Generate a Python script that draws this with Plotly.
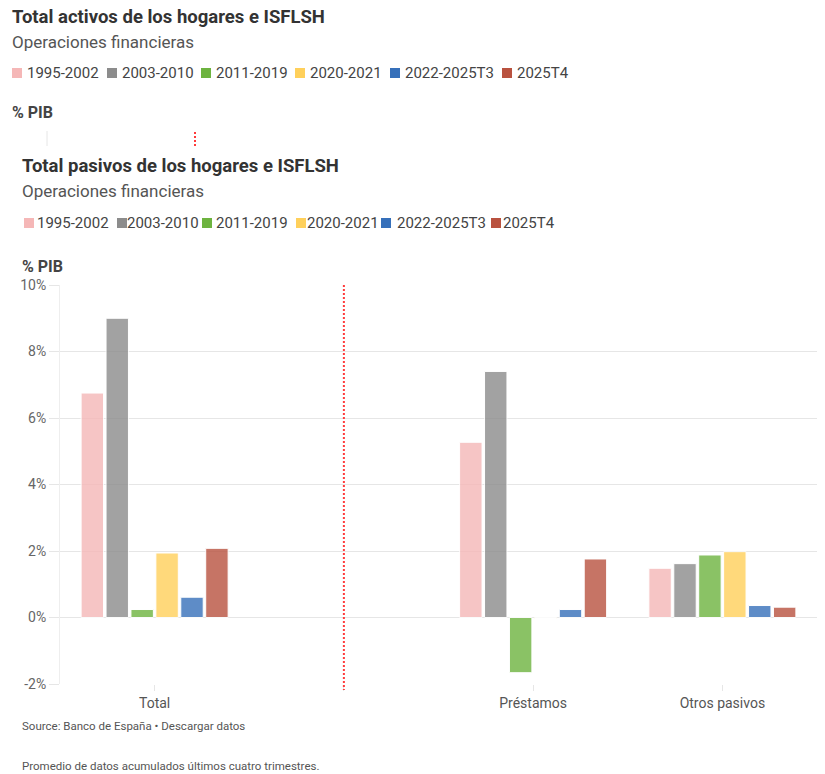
import plotly.graph_objects as go

# ---------------- data ----------------
categories = ["Total", "", "Préstamos", "Otros pasivos"]
series_names = ["1995-2002", "2003-2010", "2011-2019", "2020-2021", "2022-2025T3", "2025T4"]
v_1995_2002 = [6.75, None, 5.27, 1.48]
v_2003_2010 = [9.00, None, 7.40, 1.62]
v_2011_2019 = [0.24, None, -1.66, 1.88]
v_2020_2021 = [1.94, None, -0.03, 1.98]
v_2022_2025T3 = [0.61, None, 0.24, 0.36]
v_2025T4 = [2.08, None, 1.76, 0.31]
series_values = [v_1995_2002, v_2003_2010, v_2011_2019, v_2020_2021, v_2022_2025T3, v_2025T4]
y_ticks = [-2, 0, 2, 4, 6, 8, 10]
y_tick_labels = ["-2%", "0%", "2%", "4%", "6%", "8%", "10%"]

# ---------------- style ----------------
colors = ["#F5B7B7", "#8C8C8C", "#6DB33F", "#FFD05B", "#3670BA", "#B9523F"]
FONT = "Roboto, Arial, sans-serif"
W, H = 825, 774
ML, MR, MT, MB = 60, 8, 285, 90
PW = W - ML - MR
PH = H - MT - MB


def px(x):
    return (x - ML) / PW


def py(y):
    return (H - MB - y) / PH


xpos = list(range(len(categories)))

fig = go.Figure()
for name, vals, col in zip(series_names, series_values, colors):
    fig.add_trace(go.Bar(
        x=xpos, y=vals, name=name,
        marker=dict(color=col, opacity=0.8, line=dict(color="white", width=1)),
        showlegend=False,
    ))

annotations = []
shapes = []


def add_text(text, x, y, size, color, bold=False):
    annotations.append(dict(
        text=("<b>%s</b>" % text) if bold else text,
        x=px(x), y=py(y), xref="paper", yref="paper",
        xanchor="left", yanchor="middle", showarrow=False,
        font=dict(family=FONT, size=size, color=color),
    ))


def add_legend(ycenter, square_x, text_x):
    for name, col, sx, tx in zip(series_names, colors, square_x, text_x):
        shapes.append(dict(
            type="rect", xref="paper", yref="paper",
            x0=px(sx), x1=px(sx + 10), y0=py(ycenter + 5), y1=py(ycenter - 5),
            fillcolor=col, line=dict(width=0), layer="above",
        ))
        add_text(name, tx - 1, ycenter, 15, "#444")


# top (hidden) chart header
add_text("Total activos de los hogares e ISFLSH", 10, 17, 18.5, "#333", bold=True)
add_text("Operaciones financieras", 10, 42, 17, "#555")
add_legend(73, [12, 107, 201, 295, 390, 502], [26, 121, 215, 309, 404, 516])
add_text("% PIB", 10, 112, 16, "#444", bold=True)
shapes.append(dict(type="line", xref="paper", yref="paper",
                   x0=px(47), x1=px(47), y0=py(131), y1=py(146),
                   line=dict(color="#e6e6e6", width=1)))
shapes.append(dict(type="line", xref="paper", yref="paper",
                   x0=px(195), x1=px(195), y0=py(132), y1=py(146),
                   line=dict(color="#ff3b3b", width=2, dash="2px,2px")))

# main chart header
add_text("Total pasivos de los hogares e ISFLSH", 20, 166, 18.5, "#333", bold=True)
add_text("Operaciones financieras", 20, 191, 17, "#555")
add_legend(223, [24, 117, 202, 296, 381, 491], [36, 126, 215, 306, 396, 502])
add_text("% PIB", 20, 266, 16, "#444", bold=True)

# footer
add_text("Source: Banco de España • Descargar datos", 20, 726, 11.5, "#555")
add_text("Promedio de datos acumulados últimos cuatro trimestres.", 20, 766, 11.5, "#555")

# divider at the blank category
shapes.append(dict(type="line", xref="x", yref="paper",
                   x0=1, x1=1, y0=1.0, y1=py(690),
                   line=dict(color="#ff3b3b", width=2, dash="2px,2px"), layer="above"))

fig.update_layout(
    width=W, height=H,
    margin=dict(l=ML, r=MR, t=MT, b=MB),
    paper_bgcolor="white", plot_bgcolor="white",
    barmode="group", bargap=0.21, bargroupgap=0.1,
    font=dict(family=FONT, size=13, color="#666"),
    annotations=annotations, shapes=shapes,
    showlegend=False,
    xaxis=dict(
        range=[-0.5, len(categories) - 0.5],
        tickmode="array", tickvals=xpos, ticktext=categories,
        showgrid=False, zeroline=False,
        showline=False,
        ticks="outside", ticklen=6, tickcolor="#e6e6e6",
        tickfont=dict(family=FONT, size=14, color="#555"),
    ),
    yaxis=dict(
        range=[-2, 10], tickmode="array", tickvals=y_ticks, ticktext=y_tick_labels,
        showgrid=True, gridcolor="#e6e6e6", gridwidth=1,
        zeroline=False,
        showline=True, linecolor="#eeeeee",
        ticks="outside", ticklen=10, tickcolor="#e6e6e6",
        tickfont=dict(family=FONT, size=14, color="#666"),
    ),
)

fig.write_html("out.html", config={"displayModeBar": False},
               post_script="document.body.style.margin='0';")
